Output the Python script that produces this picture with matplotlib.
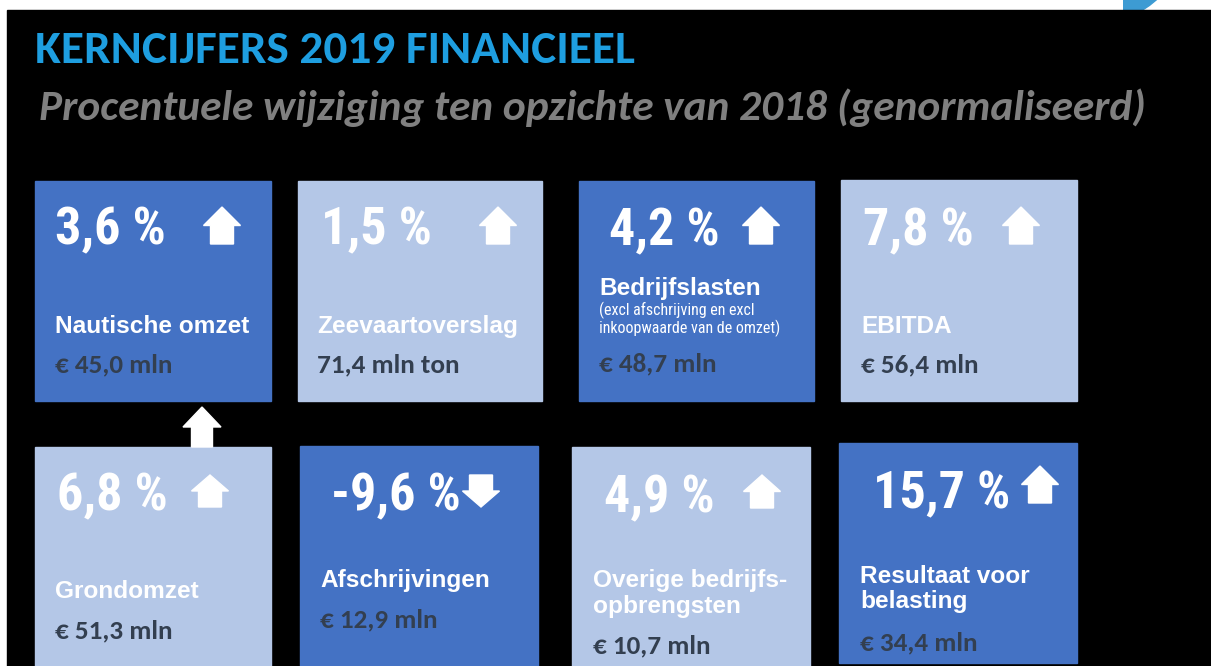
import matplotlib as mpl
import matplotlib.pyplot as plt
from matplotlib.patches import Rectangle, Polygon, Circle

TITLE = "KERNCIJFERS 2019 FINANCIEEL"
SUBTITLE = "Procentuele wijziging ten opzichte van 2018 (genormaliseerd)"

# percentage change vs 2018, one per tile (row 1 then row 2)
PCT = [3.6, 1.5, 4.2, 7.8, 6.8, -9.6, 4.9, 15.7]
LABELS = [["Nautische omzet"], ["Zeevaartoverslag"], ["Bedrijfslasten"], ["EBITDA"],
          ["Grondomzet"], ["Afschrijvingen"], ["Overige bedrijfs-", "opbrengsten"],
          ["Resultaat voor", "belasting"]]
NOTES = [[], [], ["(excl afschrijving en excl", "inkoopwaarde van de omzet)"], [],
         [], [], [], []]
AMOUNTS = ["€ 45,0 mln", "71,4 mln ton", "€ 48,7 mln", "€ 56,4 mln",
           "€ 51,3 mln", "€ 12,9 mln", "€ 10,7 mln", "€ 34,4 mln"]

DARK = '#4472C4'
LIGHT = '#B4C7E7'
TILE_COLORS = [DARK, LIGHT, DARK, LIGHT, LIGHT, DARK, LIGHT, DARK]

# layout in pixels: x0, y0, x1, y1, pct_x, pct_base, arrow_cx, arrow_top, arrow_bot,
# text_x, label baselines, note baselines, amount baseline
LAYOUT = [
    (35, 181, 271, 401, 55, 244, 222, 207, 244, 55, [333], [], 372),
    (298, 181, 542, 401, 321, 244, 498, 207, 244, 317, [333], [], 372),
    (579, 181, 814, 401, 609, 245, 761, 207, 244, 599, [295], [315, 333], 371),
    (841, 180, 1077, 401, 863, 245, 1021, 207, 244, 861, [333], [], 372),
    (35, 447, 271, 666, 57, 510, 210, 475, 507, 55, [598], [], 638),
    (300, 446, 538, 666, 331, 510, 481, 475, 507, 320, [587], [], 627),
    (572, 447, 810, 666, 604, 512, 762, 475, 508, 593, [587, 613], [], 653),
    (839, 443, 1077, 663, 873, 508, 1040, 466, 503, 860, [583, 608], [], 650),
]

NARROW = ['Roboto Condensed', 'Liberation Sans', 'DejaVu Sans']
ARIAL = ['Liberation Sans', 'DejaVu Sans']
CALIBRI = ['Carlito', 'Lato', 'DejaVu Sans']
AMOUNT_COLOR = '#333F50'

W, H = 1211, 666
fig = plt.figure(figsize=(W / 100, H / 100), dpi=100)
fig.patch.set_facecolor('white')
ax = fig.add_axes([0, 0, 1, 1])
ax.set_xlim(0, W)
ax.set_ylim(H, 0)
ax.axis('off')

# black slide area and a bit of the logo peeking out at the top
ax.add_patch(Rectangle((7, 10), W - 7, H - 10, color='black', zorder=1))
logo = Circle((1090, -75), 100, color='#3D9BD3', zorder=0)
ax.add_patch(logo)
logo.set_clip_path(Rectangle((1123, 0), 60, 10, transform=ax.transData))


def arrow(cx, top, bot, up=True, head_w=37, shaft_w=23, head_frac=0.5):
    hh = (bot - top) * head_frac
    if up:
        pts = [(cx, top), (cx + head_w / 2, top + hh), (cx + shaft_w / 2, top + hh),
               (cx + shaft_w / 2, bot), (cx - shaft_w / 2, bot),
               (cx - shaft_w / 2, top + hh), (cx - head_w / 2, top + hh)]
    else:
        pts = [(cx, bot), (cx + head_w / 2, bot - hh), (cx + shaft_w / 2, bot - hh),
               (cx + shaft_w / 2, top), (cx - shaft_w / 2, top),
               (cx - shaft_w / 2, bot - hh), (cx - head_w / 2, bot - hh)]
    ax.add_patch(Polygon(pts, closed=True, color='white', zorder=4))


ax.text(35, 63, TITLE, color='#1E9EE0', fontsize=34, fontweight='bold',
        family=CALIBRI, va='baseline', ha='left', zorder=5)
ax.text(39, 120, SUBTITLE, color='#808080', fontsize=31.2, fontweight='bold',
        style='italic', family=CALIBRI, va='baseline', ha='left', zorder=5)

for i, lay in enumerate(LAYOUT):
    x0, y0, x1, y1, px, pb, acx, at, ab, tx, lbs, nbs, amb = lay
    ax.add_patch(Rectangle((x0, y0), x1 - x0, y1 - y0, color=TILE_COLORS[i], zorder=2))
    pct_txt = ('%.1f' % PCT[i]).replace('.', ',') + ' %'
    ax.text(px, pb, pct_txt, color='white', fontsize=37.5, fontweight='bold',
            family=NARROW, va='baseline', ha='left', zorder=5)
    arrow(acx, at, ab, up=PCT[i] >= 0)
    for line, b in zip(LABELS[i], lbs):
        ax.text(tx, b, line, color='white', fontsize=17.6, fontweight='bold',
                family=ARIAL, va='baseline', ha='left', zorder=5)
    for line, b in zip(NOTES[i], nbs):
        ax.text(tx, b, line, color='white', fontsize=11.5,
                family=NARROW, va='baseline', ha='left', zorder=5)
    ax.text(tx, amb, AMOUNTS[i], color=AMOUNT_COLOR, fontsize=19.5, fontweight='bold',
            family=CALIBRI, va='baseline', ha='left', zorder=5)

# arrow linking the first two rows
arrow(202, 407, 447, up=True, head_w=38, shaft_w=21, head_frac=0.5)

fig.savefig('out.png', dpi=100, facecolor=fig.get_facecolor())
